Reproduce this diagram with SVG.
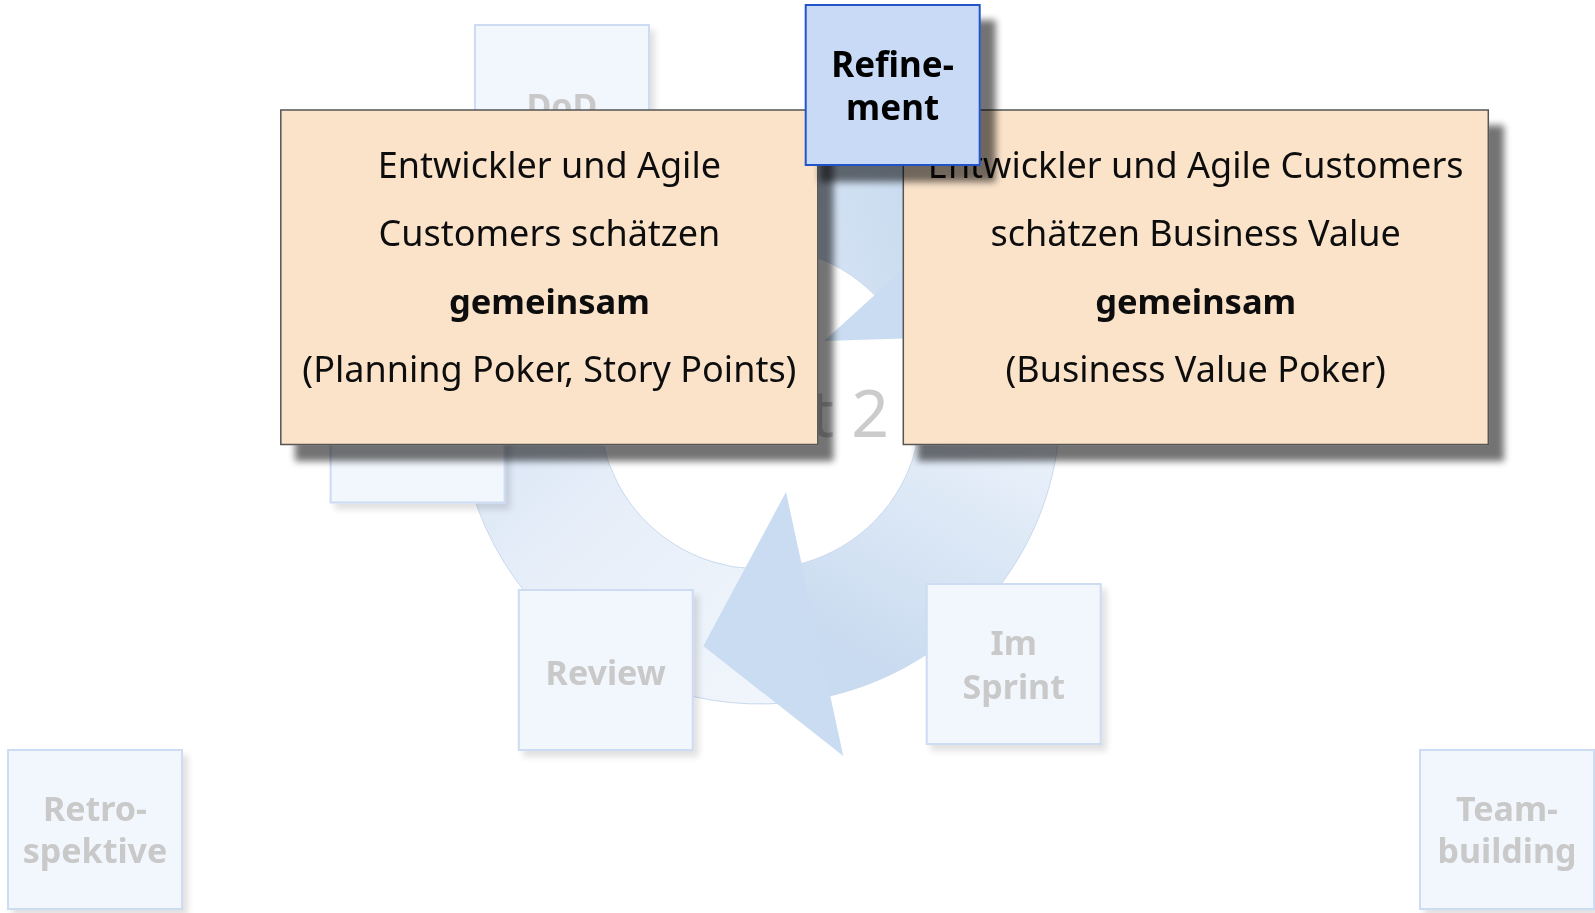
<svg xmlns="http://www.w3.org/2000/svg" width="1595" height="913" viewBox="0 0 1595 913">
<defs>
<style>
.fb{fill:#f2f6fd;stroke:#cddbf3;stroke-width:2}
.ft{font-family:"Noto Sans","DejaVu Sans",sans-serif;font-weight:bold;font-size:34px;fill:#c9c9c9;text-anchor:middle}
.ob{fill:#fbe3ca;stroke:#555555;stroke-width:1.5}
.ot{font-family:"Noto Sans","DejaVu Sans",sans-serif;font-size:36px;fill:#111111;text-anchor:middle}
.bd{font-weight:bold;font-size:34.5px}
.rb{fill:#c8daf6;stroke:#2453c9;stroke-width:2}
.rt{font-family:"Noto Sans","DejaVu Sans",sans-serif;font-weight:bold;font-size:35px;fill:#000000;text-anchor:middle}
.seg{stroke:#c9d9ef;stroke-width:1}
.head{fill:#cadcf1}
.big{font-family:"Noto Sans","DejaVu Sans",sans-serif;font-size:66px;fill:#cbcbcb;text-anchor:end}
</style>
<filter id="sh" x="-10%" y="-10%" width="130%" height="135%">
<feGaussianBlur in="SourceAlpha" stdDeviation="3.5"/>
<feOffset dx="15" dy="16"/>
<feComponentTransfer><feFuncA type="linear" slope="0.55"/></feComponentTransfer>
<feMerge><feMergeNode/><feMergeNode in="SourceGraphic"/></feMerge>
</filter>
<filter id="lsh" x="-10%" y="-10%" width="130%" height="130%">
<feGaussianBlur in="SourceAlpha" stdDeviation="3"/>
<feOffset dx="5" dy="6"/>
<feComponentTransfer><feFuncA type="linear" slope="0.12"/></feComponentTransfer>
<feMerge><feMergeNode/><feMergeNode in="SourceGraphic"/></feMerge>
</filter>
<clipPath id="inner-clip"><rect x="0" y="0" width="1595" height="444"/></clipPath>
<linearGradient id="g1" gradientUnits="userSpaceOnUse" x1="1010" y1="300" x2="830" y2="640">
<stop offset="0" stop-color="#eff4fb"/><stop offset="0.35" stop-color="#e7eff9"/><stop offset="1" stop-color="#c9dbf0"/>
</linearGradient>
<linearGradient id="g2" gradientUnits="userSpaceOnUse" x1="800" y1="690" x2="470" y2="330">
<stop offset="0" stop-color="#f1f6fc"/><stop offset="0.5" stop-color="#e8eff9"/><stop offset="1" stop-color="#d3e2f4"/>
</linearGradient>
<linearGradient id="g3" gradientUnits="userSpaceOnUse" x1="540" y1="340" x2="930" y2="230">
<stop offset="0" stop-color="#eff4fb"/><stop offset="1" stop-color="#c9dbf0"/>
</linearGradient>
</defs>
<rect width="1595" height="913" fill="#ffffff"/>

<g id="connectors">
<path class="seg" fill="url(#g3)" d="M473.1,321.4 A300,296 0 0 1 989.8,217.7 L883.3,304.5 A161,161 0 0 0 606,360.9 Z"/>
<path class="seg" fill="url(#g2)" d="M827.5,696.4 A300,296 0 0 1 473.9,319 L606.5,359.6 A161,161 0 0 0 796.2,564.9 Z"/>
<path class="seg" fill="url(#g1)" d="M986.4,213.8 A300,296 0 0 1 824.9,697 L794.8,565.2 A161,161 0 0 0 881.5,302.4 Z"/>
<polygon class="head" points="786,492 703.3,646 843.3,756"/>
<polygon class="head" points="824.1,341 998.8,335.6 1024.1,159.4"/>
<polygon class="head" points="674.3,388.5 582.2,239.9 417,306.1"/>
</g>

<text class="big" x="889" y="437" clip-path="url(#inner-clip)">Sprint 2</text>

<g id="node-dod" filter="url(#lsh)">
<rect class="fb" x="475" y="25" width="174" height="160"/>
<text class="ft" x="562" y="118">DoD</text>
</g>
<g id="node-hidden" filter="url(#lsh)">
<rect class="fb" x="330.6" y="342.5" width="174" height="160"/>
</g>
<g id="node-review" filter="url(#lsh)">
<rect class="fb" x="518.8" y="590" width="174" height="160"/>
<text class="ft" x="605.7" y="685">Review</text>
</g>
<g id="node-imsprint" filter="url(#lsh)">
<rect class="fb" x="926.7" y="584" width="174" height="160"/>
<text class="ft" x="1013.7" y="655">Im</text>
<text class="ft" x="1013.7" y="699">Sprint</text>
</g>
<g id="node-retro" filter="url(#lsh)">
<rect class="fb" x="8" y="750" width="174" height="159"/>
<text class="ft" x="95" y="821">Retro-</text>
<text class="ft" x="95" y="863">spektive</text>
</g>
<g id="node-team" filter="url(#lsh)">
<rect class="fb" x="1420" y="750" width="174" height="159"/>
<text class="ft" x="1507" y="821">Team-</text>
<text class="ft" x="1507" y="863">building</text>
</g>

<g id="node-left-note" filter="url(#sh)">
<rect class="ob" x="280.8" y="110" width="537" height="334.5"/>
<text class="ot" x="549.4" y="178">Entwickler und Agile</text>
<text class="ot" x="549.4" y="246">Customers schätzen</text>
<text class="ot bd" x="549.4" y="314">gemeinsam</text>
<text class="ot" x="549.4" y="382">(Planning Poker, Story Points)</text>
</g>
<g id="node-right-note" filter="url(#sh)">
<rect class="ob" x="903.3" y="110" width="585" height="334.5"/>
<text class="ot" x="1195.7" y="178">Entwickler und Agile Customers</text>
<text class="ot" x="1195.7" y="246">schätzen Business Value</text>
<text class="ot bd" x="1195.7" y="314">gemeinsam</text>
<text class="ot" x="1195.7" y="382">(Business Value Poker)</text>
</g>
<g id="node-refinement" filter="url(#sh)">
<rect class="rb" x="805.7" y="5" width="174" height="160"/>
<text class="rt" x="892.6" y="77">Refine-</text>
<text class="rt" x="892.6" y="120">ment</text>
</g>
</svg>
